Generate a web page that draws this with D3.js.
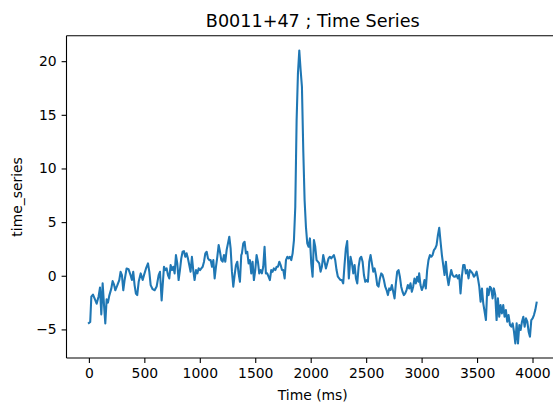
<!DOCTYPE html>
<html>
<head>
<meta charset="utf-8">
<script src="https://cdn.jsdelivr.net/npm/d3@7"></script>
<style>
  html, body { margin: 0; padding: 0; background: #fff; }
  svg { display: block; }
  text { font-family: "DejaVu Sans", sans-serif; fill: #000; }
</style>
</head>
<body>
<svg id="chart" width="553" height="403"></svg>
<script>
// ---- data ----
const title = "B0011+47 ; Time Series";
const xLabel = "Time (ms)";
const yLabel = "time_series";
const xTicks = [0, 500, 1000, 1500, 2000, 2500, 3000, 3500, 4000];
const yTicks = [-5, 0, 5, 10, 15, 20];

const timeMs = [
  0, 12, 22, 37, 55, 70, 88, 100, 112, 124, 136, 148, 160, 172, 184, 202, 214, 226, 238, 256,
  274, 286, 298, 310, 322, 340, 358, 376, 388, 400, 412, 424, 436, 449, 467, 485, 497, 515, 533, 545,
  557, 575, 593, 611, 629, 641, 656, 677, 689, 701, 713, 725, 737, 749, 761, 773, 785, 797, 809, 821,
  833, 845, 857, 869, 881, 893, 905, 917, 929, 941, 953, 966, 978, 990, 1002, 1014, 1026, 1038, 1050, 1062,
  1074, 1086, 1098, 1110, 1122, 1134, 1146, 1158, 1170, 1182, 1194, 1206, 1218, 1230, 1242, 1254, 1266, 1278, 1290, 1302,
  1314, 1326, 1338, 1350, 1362, 1374, 1380, 1392, 1404, 1416, 1428, 1440, 1452, 1464, 1476, 1488, 1500, 1512, 1524, 1536,
  1548, 1560, 1572, 1584, 1596, 1608, 1620, 1632, 1644, 1656, 1668, 1681, 1693, 1705, 1717, 1729, 1741, 1753, 1765, 1777,
  1789, 1801, 1813, 1825, 1837, 1849, 1861, 1873, 1885, 1897, 1909, 1921, 1933, 1945, 1957, 1969, 1981, 1993, 2005, 2017,
  2029, 2041, 2053, 2065, 2077, 2089, 2101, 2113, 2125, 2137, 2149, 2161, 2173, 2185, 2197, 2209, 2221, 2233, 2245, 2257,
  2269, 2281, 2293, 2305, 2317, 2329, 2344, 2359, 2372, 2384, 2396, 2408, 2420, 2432, 2444, 2456, 2468, 2480, 2492, 2504,
  2516, 2528, 2540, 2552, 2564, 2576, 2588, 2600, 2612, 2624, 2636, 2648, 2660, 2672, 2684, 2696, 2708, 2720, 2732, 2744,
  2756, 2768, 2780, 2792, 2804, 2816, 2828, 2840, 2852, 2864, 2876, 2888, 2900, 2912, 2924, 2936, 2948, 2960, 2972, 2978,
  2990, 3002, 3014, 3026, 3038, 3050, 3062, 3075, 3087, 3099, 3111, 3123, 3135, 3147, 3159, 3171, 3183, 3195, 3207, 3219,
  3231, 3243, 3255, 3267, 3279, 3291, 3303, 3315, 3327, 3339, 3351, 3363, 3375, 3387, 3399, 3411, 3423, 3435, 3447, 3459,
  3471, 3484, 3496, 3508, 3520, 3532, 3544, 3556, 3568, 3580, 3592, 3604, 3616, 3628, 3640, 3652, 3664, 3676, 3688, 3700,
  3712, 3724, 3736, 3748, 3760, 3772, 3784, 3797, 3809, 3821, 3833, 3845, 3857, 3869, 3881, 3893, 3905, 3917, 3929, 3941,
  3953, 3965, 3977, 3989, 4001, 4013, 4025, 4037
];

const timeSeries = [
  -4.4, -4.3, -1.95, -1.75, -2.2, -2.6, -1.9, -1.1, -3.6, -0.7, -2.65, -4.45, -2.2, -2.5, -1.85, -1.2, -0.5, -0.8, -1.35, -0.9,
  -0.4, 0.37, 0.06, -1.35, -0.4, 0.68, 0.6, 0.06, -0.4, 0.37, -0.87, -1.65, -1.8, -0.56, 0.22, -0.4, 0.06, 0.68, 1.15, 0.37,
  -0.87, -1.25, -1.35, -1.0, 0.06, 0.37, -2.3, 0.84, 0.53, 0.69, 0.07, -0.25, 1.0, 0.53, 0.84, 0.22, 1.93, 1.15, -0.4, 0.53,
  1.62, 2.24, 2.3, 1.77, 2.09, 1.62, 1.0, 0.38, 1.77, 0.53, -0.4, 0.53, 0.22, 0.69, 0.53, 0.69, 0.84, 1.31, 2.09, 2.24,
  1.62, 1.46, 1.46, 0.84, 1.46, -0.25, 0.84, 1.77, 2.86, 2.24, 1.46, 1.31, 1.93, 1.31, 2.4, 3.02, 3.64, 2.55, 0.38, -1.02,
  0.07, 1.0, 1.31, 0.22, -0.56, 1.93, 2.09, 3.02, 3.17, 2.09, 2.24, 1.15, 1.46, 0.22, 1.31, -0.4, 0.53, 1.93, 1.31, 0.22,
  0.53, 0.22, 0.84, 2.7, 0.22, 0.22, -0.09, -0.4, 0.53, 0.37, 0.69, 0.53, 0.84, 0.84, 1.31, 1.0, 0.53, 0.53, -0.25, 1.46,
  1.77, 1.62, 1.77, 1.46, 2.09, 3.33, 6.43, 14.5, 18.85, 21.0, 19.2, 17.6, 11.7, 7.05, 4.57, 3.02, 2.7, 3.48, 1.15, -0.09,
  3.33, 2.7, 1.46, 1.31, 1.15, 0.38, 0.84, 1.93, 1.31, 0.69, 1.15, 1.62, 1.77, 1.62, 1.77, 1.93, 1.46, 0.53, -0.09, -0.25,
  -0.4, -0.4, -0.71, 1.0, 2.55, 3.23, -0.25, 1.77, 1.15, 0.22, 1.0, -0.25, -0.71, 0.84, 1.62, 1.77, 1.31, 0.07, -0.56, -0.4,
  -0.56, 1.31, 1.93, 1.15, 0.38, 0.69, 0.07, -0.87, -1.02, -0.25, 0.22, 0.07, -0.4, -1.02, -1.33, -1.8, -1.18, -1.33, -0.87, -1.49,
  -2.11, -0.71, 0.38, 0.53, -0.09, -1.02, -1.49, -1.8, -1.64, -1.33, -0.87, -1.18, -0.71, -1.49, -1.02, -0.25, -0.71, -0.09, -0.56, 0.22,
  -0.87, -1.33, -1.02, -0.4, -1.18, 0.53, 1.46, 1.93, 1.77, 1.93, 2.39, 2.55, 2.86, 3.79, 4.47, 3.17, 1.93, 1.0, 0.07, 1.31,
  -0.09, -0.87, -0.09, 0.53, 0.07, -0.09, -0.09, 0.07, -0.25, 0.07, -1.64, -0.09, 1.0, 1.0, 0.22, 0.53, -0.25, 0.53, 0.38, 0.22,
  -0.09, 0.07, 0.38, -0.25, -1.02, -2.42, -1.18, -2.57, -3.35, -4.13, -1.18, -1.8, -1.02, -1.18, -2.11, -1.18, -1.8, -4.13, -2.11, -3.82,
  -2.73, -3.51, -2.73, -3.82, -3.2, -4.28, -3.66, -4.59, -4.75, -4.44, -5.21, -6.3, -4.44, -6.3, -4.59, -5.06, -4.28, -3.82, -4.75, -3.97,
  -4.28, -5.21, -5.68, -4.13, -3.97, -3.66, -3.2, -2.5
];

// ---- layout ----
const svg = d3.select("#chart");
const plot = { left: 66.5, right: 559, top: 35.8, bottom: 358 };
const fontTick = 13.9, fontLabel = 13.9, fontTitle = 17.6;
const lineColor = "#1f77b4";

const data = timeMs.map((t, i) => ({ t, v: timeSeries[i] }));

const xExt = d3.extent(timeMs);
const xPad = (xExt[1] - xExt[0]) * 0.05;
const x = d3.scaleLinear().domain([xExt[0] - xPad, xExt[1] + xPad]).range([plot.left, plot.right]);

const yExt = d3.extent(timeSeries);
const yPad = (yExt[1] - yExt[0]) * 0.05;
const y = d3.scaleLinear().domain([yExt[0] - yPad, yExt[1] + yPad]).range([plot.bottom, plot.top]);

// clip
svg.append("defs").append("clipPath").attr("id", "clip")
  .append("rect").attr("x", plot.left).attr("y", plot.top)
  .attr("width", plot.right - plot.left).attr("height", plot.bottom - plot.top);

// line
svg.append("path")
  .datum(data)
  .attr("clip-path", "url(#clip)")
  .attr("fill", "none")
  .attr("stroke", lineColor)
  .attr("stroke-width", 2.08)
  .attr("stroke-linejoin", "round")
  .attr("stroke-linecap", "square")
  .attr("d", d3.line().x(d => x(d.t)).y(d => y(d.v)));

// axes
const xAxis = d3.axisBottom(x).tickValues(xTicks).tickSize(4.9).tickPadding(4.9).tickFormat(d3.format("d"));
const yAxis = d3.axisLeft(y).tickValues(yTicks).tickSize(4.9).tickPadding(4.9).tickFormat(d3.format("d"));

const gx = svg.append("g").attr("transform", `translate(0,${plot.bottom})`).call(xAxis);
const gy = svg.append("g").attr("transform", `translate(${plot.left},0)`).call(yAxis);

[gx, gy].forEach(g => {
  g.select(".domain").remove();
  g.selectAll(".tick line").attr("stroke", "#000").attr("stroke-width", 1.1);
  g.selectAll(".tick text").attr("font-family", "DejaVu Sans").attr("font-size", fontTick).attr("fill", "#000");
});

// spines (left, top, bottom; right lies past the canvas edge)
const spine = svg.append("g").attr("stroke", "#000").attr("stroke-width", 1.1).attr("fill", "none");
spine.append("line").attr("x1", plot.left).attr("x2", plot.left).attr("y1", plot.top).attr("y2", plot.bottom);
spine.append("line").attr("x1", plot.left).attr("x2", plot.right).attr("y1", plot.top).attr("y2", plot.top);
spine.append("line").attr("x1", plot.left).attr("x2", plot.right).attr("y1", plot.bottom).attr("y2", plot.bottom);
spine.append("line").attr("x1", plot.right).attr("x2", plot.right).attr("y1", plot.top).attr("y2", plot.bottom);

// title & labels
const cx = (plot.left + plot.right) / 2;
svg.append("text").attr("x", cx).attr("y", 27).attr("text-anchor", "middle")
  .attr("font-size", fontTitle).text(title);
svg.append("text").attr("x", cx).attr("y", 400).attr("text-anchor", "middle")
  .attr("font-size", fontLabel).text(xLabel);
svg.append("text")
  .attr("transform", `translate(22,${(plot.top + plot.bottom) / 2}) rotate(-90)`)
  .attr("text-anchor", "middle").attr("font-size", fontLabel).text(yLabel);
</script>
</body>
</html>
